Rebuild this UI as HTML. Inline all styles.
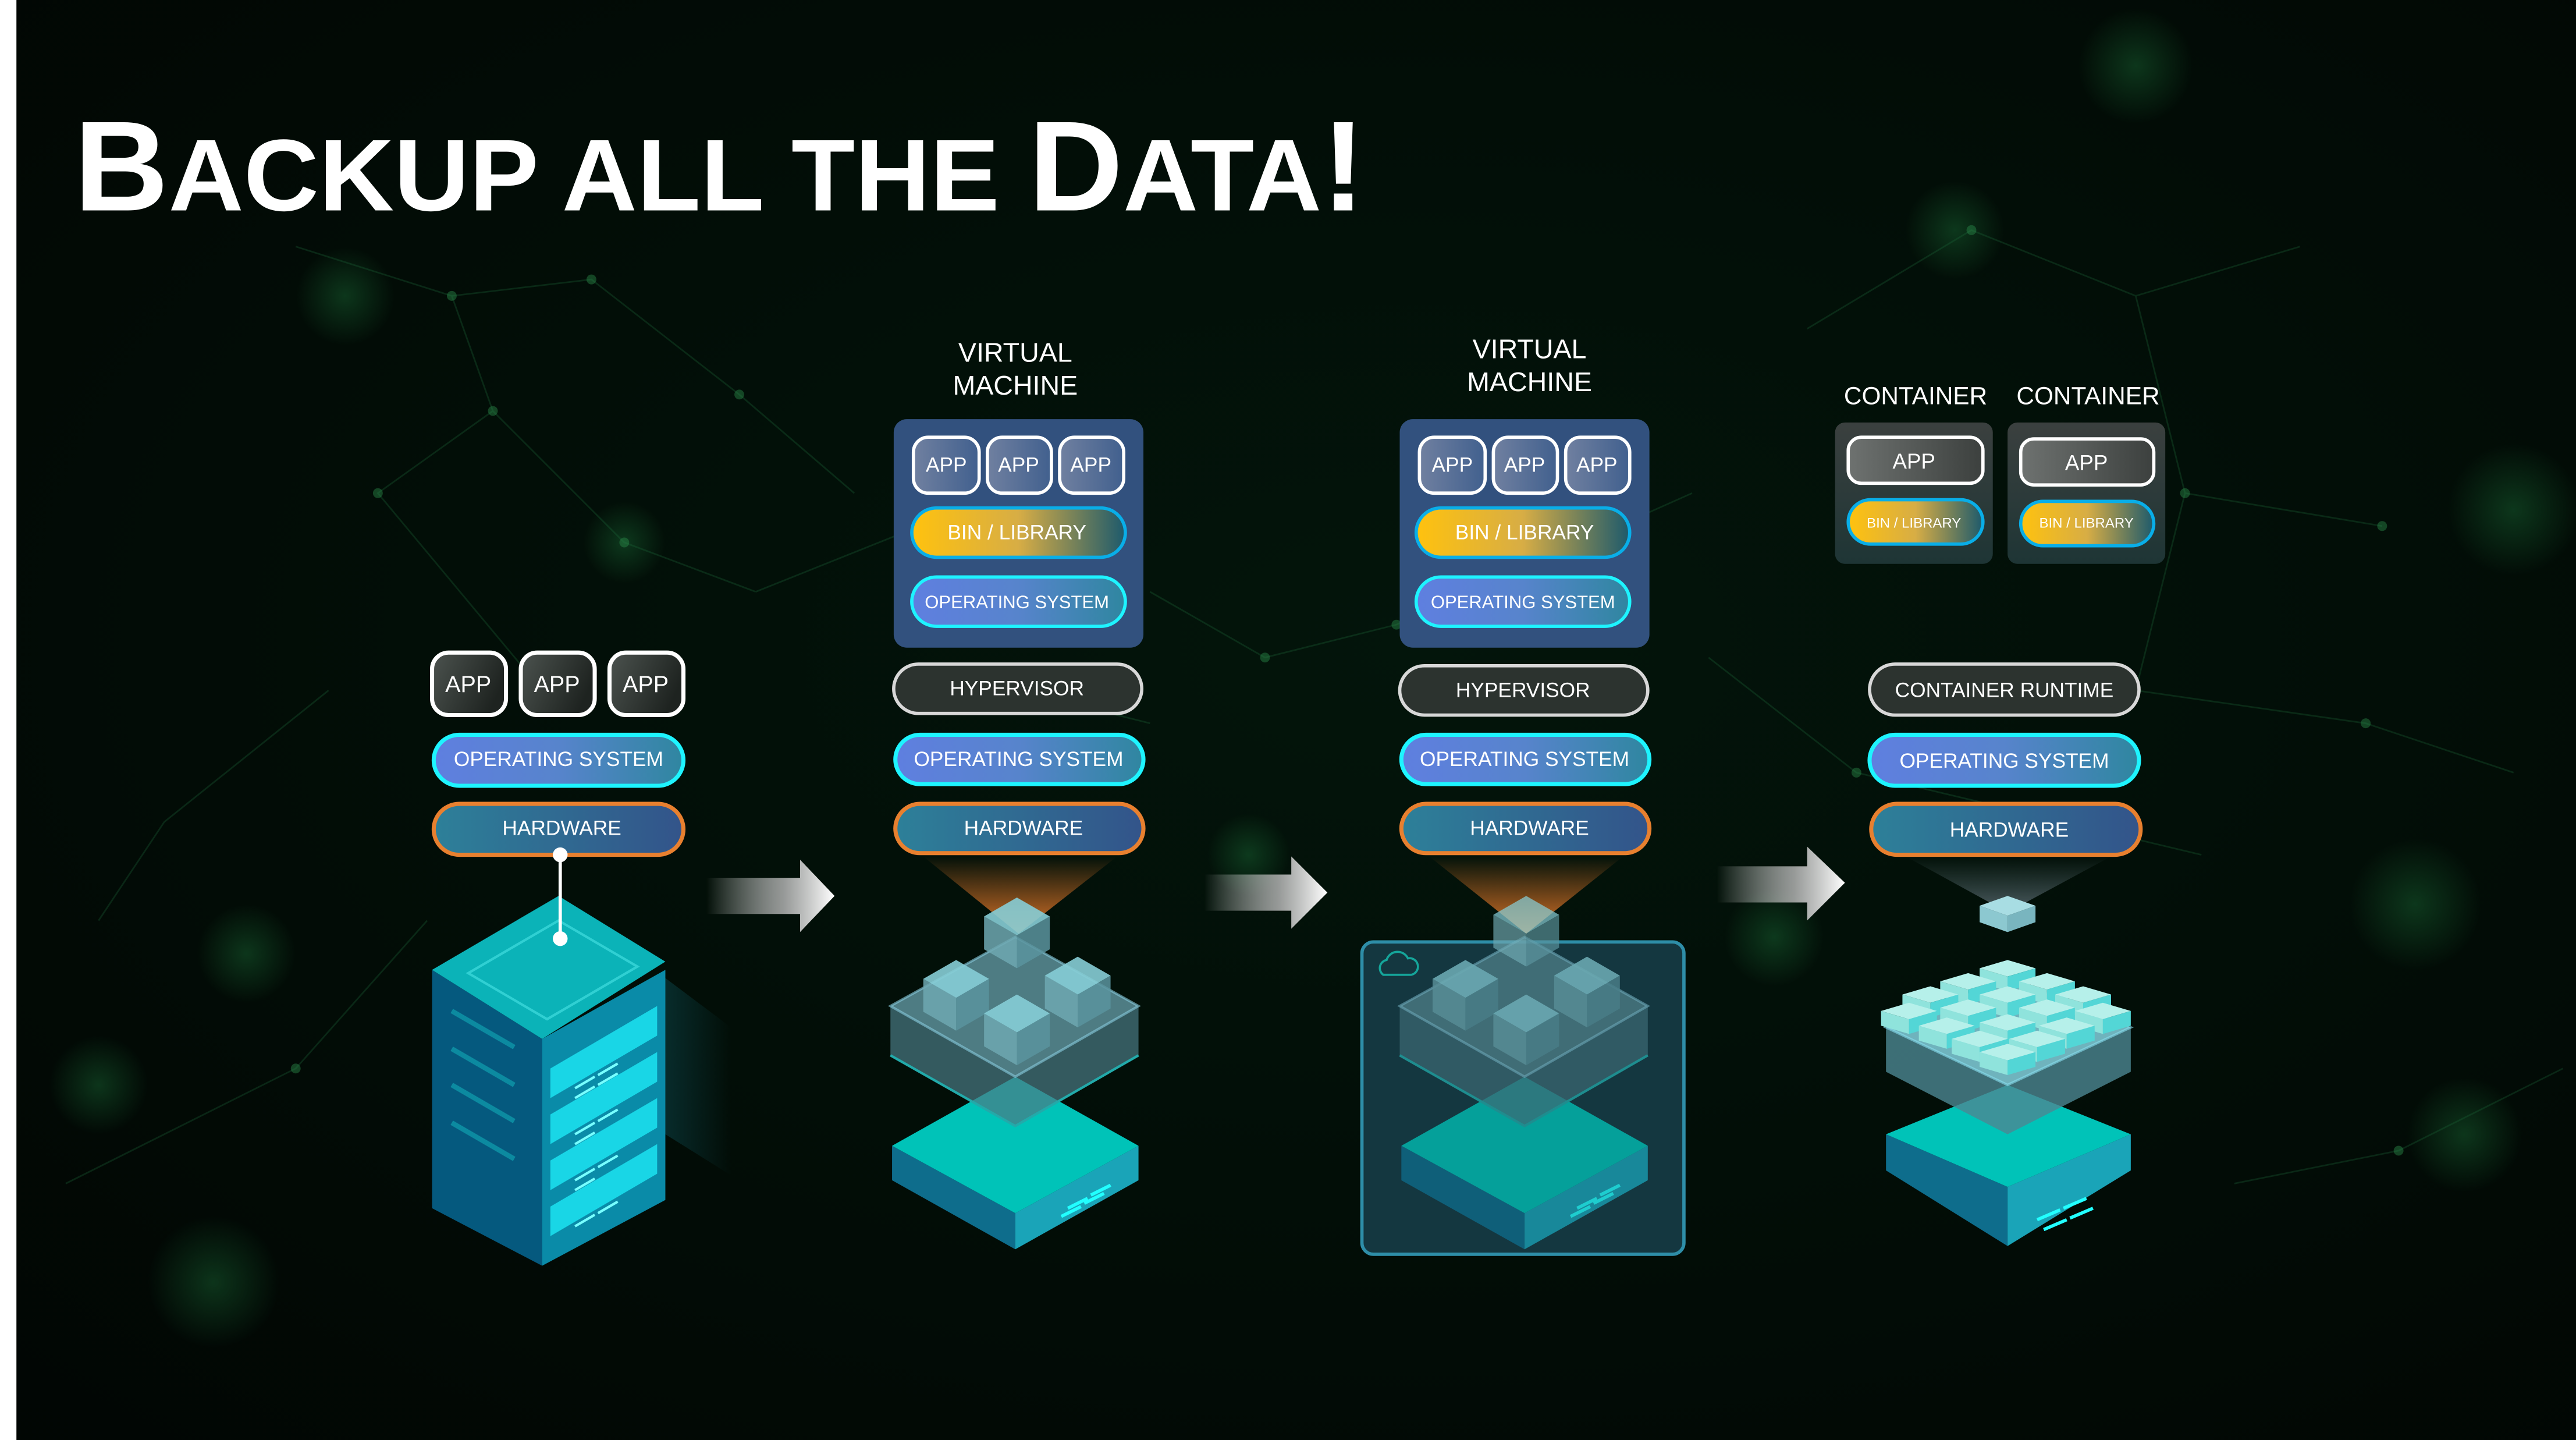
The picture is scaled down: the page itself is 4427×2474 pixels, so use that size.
<!DOCTYPE html>
<html><head><meta charset="utf-8"><style>
html,body{margin:0;padding:0;background:#000;}
svg{display:block}
text{font-family:"Liberation Sans","DejaVu Sans",sans-serif;fill:#fff;text-anchor:middle}
</style></head><body>
<svg width="4427" height="2474" viewBox="0 0 1568 876" preserveAspectRatio="none" xmlns="http://www.w3.org/2000/svg">
<defs>
<radialGradient id="bg" cx="0.55" cy="0.45" r="0.8"><stop offset="0" stop-color="#03150b"/><stop offset="0.6" stop-color="#020c06"/><stop offset="1" stop-color="#010503"/></radialGradient>
<radialGradient id="glow"><stop offset="0" stop-color="#1a6a36" stop-opacity="0.45"/><stop offset="1" stop-color="#1a6a36" stop-opacity="0"/></radialGradient>
<linearGradient id="os" x1="0" x2="1"><stop offset="0" stop-color="#5f7fe0"/><stop offset="0.5" stop-color="#5784cc"/><stop offset="1" stop-color="#2f86a0"/></linearGradient>
<linearGradient id="hw" x1="0" x2="1"><stop offset="0" stop-color="#2d8099"/><stop offset="1" stop-color="#33548a"/></linearGradient>
<linearGradient id="bin" x1="0" x2="1"><stop offset="0" stop-color="#ffc20e"/><stop offset="0.5" stop-color="#d7ad45"/><stop offset="1" stop-color="#1d5a6c"/></linearGradient>
<linearGradient id="appd" x1="0" x2="1" y1="0" y2="0.4"><stop offset="0" stop-color="#4c534f"/><stop offset="1" stop-color="#1e2320"/></linearGradient>
<linearGradient id="appb" x1="0" x2="1"><stop offset="0" stop-color="#7080a0"/><stop offset="1" stop-color="#41608e"/></linearGradient>
<linearGradient id="appg" x1="0" x2="1"><stop offset="0" stop-color="#6e7270"/><stop offset="1" stop-color="#3c403e"/></linearGradient>
<linearGradient id="cont" x1="0" y1="0" x2="0" y2="1"><stop offset="0" stop-color="#3b403f"/><stop offset="1" stop-color="#1e3535"/></linearGradient>
<linearGradient id="arr" x1="0" x2="1"><stop offset="0" stop-color="#fff" stop-opacity="0"/><stop offset="0.6" stop-color="#bbb" stop-opacity="0.8"/><stop offset="1" stop-color="#fff"/></linearGradient>
<linearGradient id="cone" x1="0" y1="0" x2="0" y2="1"><stop offset="0" stop-color="#e87a2a" stop-opacity="0"/><stop offset="1" stop-color="#e87a2a" stop-opacity="0.95"/></linearGradient>
<linearGradient id="cone2" x1="0" y1="0" x2="0" y2="1"><stop offset="0" stop-color="#7fa0a8" stop-opacity="0"/><stop offset="1" stop-color="#9ab" stop-opacity="0.5"/></linearGradient>
<linearGradient id="shadow" x1="0" x2="1"><stop offset="0" stop-color="#0d4a50" stop-opacity="0.5"/><stop offset="1" stop-color="#0d4a50" stop-opacity="0"/></linearGradient>
<g id="cube">
<path d="M0,0 L20,11.5 L0,23 L-20,11.5Z" fill="#86cdd6" fill-opacity="0.9"/>
<path d="M-20,11.5 L0,23 L0,43 L-20,31.5Z" fill="#6fa8b2" fill-opacity="0.85"/>
<path d="M0,23 L20,11.5 L20,31.5 L0,43Z" fill="#5b949f" fill-opacity="0.85"/>
</g>
<g id="tile">
<path d="M0,0 L17,5 L0,10 L-17,5Z" fill="#b6f0ea"/>
<path d="M-17,5 L0,10 L0,19 L-17,14Z" fill="#8fe3dc"/>
<path d="M0,10 L17,5 L17,14 L0,19Z" fill="#53d6d6"/>
</g>
<g id="vmstack">
<path d="M543,718 L618,760 L618,738 L543,697Z" fill="#0e6d8c"/>
<path d="M618,760 L693,718 L693,697 L618,738Z" fill="#1aa4b8"/>
<path d="M543,697 L618,655 L693,697 L618,738Z" fill="#00c3b8"/>
<path d="M650,735 l12,-6 M646,740 l12,-6 M664,727 l12,-6 M660,732 l12,-6" stroke="#2ff" stroke-width="2"/>
<path d="M542,612 L618,570 L693,612 L693,642 L618,685 L542,642Z" fill="#4a7a84" fill-opacity="0.7"/>
<path d="M542,612 L618,570 L693,612 L618,655Z" fill="#5a8a93" fill-opacity="0.7" stroke="#8cd" stroke-width="1.5" stroke-opacity="0.6"/>
<path d="M542,642 L618,685 L693,642" fill="none" stroke="#2aa" stroke-width="1.5"/>
<use href="#cube" x="582" y="584"/>
<use href="#cube" x="656" y="582"/>
<use href="#cube" x="619" y="605"/>
</g>
</defs>
<rect width="1568" height="876" fill="url(#bg)"/>
<g>
<circle cx="1470" cy="550" r="40" fill="url(#glow)"/>
<circle cx="1080" cy="570" r="30" fill="url(#glow)"/>
<circle cx="150" cy="580" r="30" fill="url(#glow)"/>
<circle cx="60" cy="660" r="30" fill="url(#glow)"/>
<circle cx="1300" cy="40" r="35" fill="url(#glow)"/>
<circle cx="1530" cy="310" r="40" fill="url(#glow)"/>
<circle cx="210" cy="180" r="30" fill="url(#glow)"/>
<circle cx="1190" cy="140" r="30" fill="url(#glow)"/>
<circle cx="1500" cy="690" r="35" fill="url(#glow)"/>
<circle cx="380" cy="330" r="25" fill="url(#glow)"/>
<circle cx="760" cy="520" r="25" fill="url(#glow)"/>
<circle cx="130" cy="780" r="40" fill="url(#glow)"/>
<g stroke="#1f6b3c" stroke-opacity="0.3" stroke-width="1" fill="none">
<path d="M180,150 L275,180 L360,170 L450,240 L520,300 M275,180 L300,250 L380,330 L460,360 M300,250 L230,300 L330,420 M460,360 L560,320 M700,360 L770,400 L850,380 L1030,300 M1100,200 L1200,140 L1300,180 L1400,150 M1300,180 L1330,300 L1450,320 M1330,300 L1300,420 L1440,440 L1530,470 M1040,400 L1130,470 L1340,520 M1360,720 L1460,700 L1560,650 M40,720 L180,650 L260,560 M700,440 L620,420 M60,560 L100,500 L200,420"/>
</g>
<g fill="#2a8a4a" fill-opacity="0.45">
<circle cx="275" cy="180" r="3"/><circle cx="360" cy="170" r="3"/><circle cx="450" cy="240" r="3"/><circle cx="300" cy="250" r="3"/><circle cx="380" cy="330" r="3"/><circle cx="770" cy="400" r="3"/><circle cx="850" cy="380" r="3"/><circle cx="1200" cy="140" r="3"/><circle cx="1330" cy="300" r="3"/><circle cx="1450" cy="320" r="3"/><circle cx="1300" cy="420" r="3"/><circle cx="1440" cy="440" r="3"/><circle cx="1130" cy="470" r="3"/><circle cx="1460" cy="700" r="3"/><circle cx="180" cy="650" r="3"/><circle cx="230" cy="300" r="3"/>
</g>
</g>
<rect x="0" y="0" width="10" height="876" fill="#fff"/>

<text x="45" y="128" textLength="786" lengthAdjust="spacingAndGlyphs" style="text-anchor:start;font-weight:bold;fill:#fff"><tspan font-size="78">B</tspan><tspan font-size="62">ACKUP ALL THE </tspan><tspan font-size="78">D</tspan><tspan font-size="62">ATA</tspan><tspan font-size="78">!</tspan></text>

<g stroke="#fff" stroke-width="2.5">
<rect x="263" y="397" width="45" height="38" rx="10" fill="url(#appd)"/>
<rect x="317" y="397" width="45" height="38" rx="10" fill="url(#appd)"/>
<rect x="371" y="397" width="45" height="38" rx="10" fill="url(#appd)"/>
</g>
<text x="285" y="421" font-size="14">APP</text><text x="339" y="421" font-size="14">APP</text><text x="393" y="421" font-size="14">APP</text>
<rect x="264" y="447" width="152" height="31" rx="15.5" fill="url(#os)" stroke="#1ef4ff" stroke-width="2.5"/>
<text x="340" y="466" font-size="12.5">OPERATING SYSTEM</text>
<rect x="264" y="489" width="152" height="31" rx="15.5" fill="url(#hw)" stroke="#e8802f" stroke-width="2.5"/>
<text x="342" y="508" font-size="12.5">HARDWARE</text>
<path d="M405,595 L445,625 L445,715 L405,690Z" fill="url(#shadow)"/>
<path d="M263,590 L330,632 L330,770 L263,735Z" fill="#05597e"/>
<path d="M330,632 L405,590 L405,730 L330,770Z" fill="#0a8ba8"/>
<g fill="#19d6e6">
<path d="M335,650 L400,612 L400,630 L335,668Z"/><path d="M335,678 L400,640 L400,658 L335,696Z"/><path d="M335,706 L400,668 L400,686 L335,724Z"/><path d="M335,734 L400,696 L400,714 L335,752Z"/>
</g>
<g stroke="#0c8aa0" stroke-width="3"><path d="M275,615 L313,637 M275,638 L313,660 M275,660 L313,682 M275,683 L313,705"/></g>
<g stroke="#7ff" stroke-width="1.5"><path d="M350,662 l12,-7 M350,668 l12,-7 M364,654 l12,-7 M364,660 l12,-7 M350,690 l12,-7 M350,696 l12,-7 M364,682 l12,-7 M350,718 l12,-7 M350,724 l12,-7 M364,710 l12,-7 M350,746 l12,-7 M364,738 l12,-7"/></g>
<path d="M263,590 L340,545 L405,585 L330,632Z" fill="#0bb3b8"/>
<path d="M285,592 L340,560 L388,588 L333,620Z" fill="none" stroke="#5ee" stroke-opacity="0.5" stroke-width="1.5"/>
<line x1="341" y1="520" x2="341" y2="571" stroke="#fff" stroke-width="2"/>
<circle cx="341" cy="520" r="4.5" fill="#fff"/><circle cx="341" cy="571" r="4.5" fill="#fff"/>

<path d="M430,534 L487,534 L487,523 L508,545 L487,567 L487,556 L430,556Z" fill="url(#arr)"/>
<path d="M733,532 L786,532 L786,521 L808,543 L786,565 L786,554 L733,554Z" fill="url(#arr)"/>
<path d="M1045,527 L1100,527 L1100,515 L1123,537 L1100,560 L1100,549 L1045,549Z" fill="url(#arr)"/>

<text x="618" y="220" font-size="16.5">VIRTUAL</text><text x="618" y="240" font-size="16.5">MACHINE</text>
<rect x="544" y="255" width="152" height="139" rx="8" fill="#32517e"/>
<g stroke="#fff" stroke-width="2">
<rect x="556" y="266" width="40" height="34" rx="9" fill="url(#appb)"/>
<rect x="601" y="266" width="39" height="34" rx="9" fill="url(#appb)"/>
<rect x="645" y="266" width="39" height="34" rx="9" fill="url(#appb)"/>
</g>
<text x="576" y="287" font-size="12.5">APP</text><text x="620" y="287" font-size="12.5">APP</text><text x="664" y="287" font-size="12.5">APP</text>
<rect x="555" y="309" width="130" height="30" rx="15" fill="url(#bin)" stroke="#09aee8" stroke-width="2"/>
<text x="619" y="328" font-size="12.5">BIN / LIBRARY</text>
<rect x="555" y="351" width="130" height="30" rx="15" fill="url(#os)" stroke="#1ef4ff" stroke-width="2"/>
<text x="619" y="370" font-size="11">OPERATING SYSTEM</text>
<rect x="544" y="404" width="151" height="30" rx="15" fill="#2c332f" stroke="#d8d8d8" stroke-width="2"/>
<text x="619" y="423" font-size="12.5">HYPERVISOR</text>
<rect x="545" y="447" width="151" height="30" rx="15" fill="url(#os)" stroke="#1ef4ff" stroke-width="2.5"/>
<text x="620" y="466" font-size="12.5">OPERATING SYSTEM</text>
<rect x="545" y="489" width="151" height="30" rx="15" fill="url(#hw)" stroke="#e8802f" stroke-width="2.5"/>
<text x="623" y="508" font-size="12.5">HARDWARE</text>
<path d="M562,521 L680,521 L620,568Z" fill="url(#cone)"/>
<use href="#vmstack"/>
<use href="#cube" x="619" y="546"/>

<text x="931" y="218" font-size="16.5">VIRTUAL</text><text x="931" y="238" font-size="16.5">MACHINE</text>
<rect x="852" y="255" width="152" height="139" rx="8" fill="#32517e"/>
<g stroke="#fff" stroke-width="2">
<rect x="864" y="266" width="40" height="34" rx="9" fill="url(#appb)"/>
<rect x="909" y="266" width="39" height="34" rx="9" fill="url(#appb)"/>
<rect x="953" y="266" width="39" height="34" rx="9" fill="url(#appb)"/>
</g>
<text x="884" y="287" font-size="12.5">APP</text><text x="928" y="287" font-size="12.5">APP</text><text x="972" y="287" font-size="12.5">APP</text>
<rect x="862" y="309" width="130" height="30" rx="15" fill="url(#bin)" stroke="#09aee8" stroke-width="2"/>
<text x="928" y="328" font-size="12.5">BIN / LIBRARY</text>
<rect x="862" y="351" width="130" height="30" rx="15" fill="url(#os)" stroke="#1ef4ff" stroke-width="2"/>
<text x="927" y="370" font-size="11">OPERATING SYSTEM</text>
<rect x="852" y="405" width="151" height="30" rx="15" fill="#2c332f" stroke="#d8d8d8" stroke-width="2"/>
<text x="927" y="424" font-size="12.5">HYPERVISOR</text>
<rect x="853" y="447" width="151" height="30" rx="15" fill="url(#os)" stroke="#1ef4ff" stroke-width="2.5"/>
<text x="928" y="466" font-size="12.5">OPERATING SYSTEM</text>
<rect x="853" y="489" width="151" height="30" rx="15" fill="url(#hw)" stroke="#e8802f" stroke-width="2.5"/>
<text x="931" y="508" font-size="12.5">HARDWARE</text>
<path d="M870,521 L988,521 L929,568Z" fill="url(#cone)"/>
<rect x="829" y="573" width="196" height="190" rx="7" fill="#143740" stroke="#2e8ea8" stroke-width="2"/>
<path d="M842,593 a5,5 0 0 1 2,-9 a7,7 0 0 1 13,-1 a5,5 0 0 1 2,10Z" fill="none" stroke="#15a59a" stroke-width="1.3"/>
<g transform="translate(310,0)" opacity="0.75"><use href="#vmstack"/></g>
<g opacity="0.8"><use href="#cube" x="929" y="545"/></g>

<text x="1166" y="246" font-size="15">CONTAINER</text><text x="1271" y="246" font-size="15">CONTAINER</text>
<rect x="1117" y="257" width="96" height="86" rx="6" fill="url(#cont)"/>
<rect x="1222" y="257" width="96" height="86" rx="6" fill="url(#cont)"/>
<g stroke="#fff" stroke-width="2">
<rect x="1125" y="266" width="82" height="28" rx="8" fill="url(#appg)"/>
<rect x="1230" y="267" width="81" height="28" rx="8" fill="url(#appg)"/>
</g>
<text x="1165" y="285" font-size="13">APP</text><text x="1270" y="286" font-size="13">APP</text>
<rect x="1125" y="304" width="82" height="27" rx="13.5" fill="url(#bin)" stroke="#09aee8" stroke-width="2"/>
<rect x="1230" y="305" width="81" height="27" rx="13.5" fill="url(#bin)" stroke="#09aee8" stroke-width="2"/>
<text x="1165" y="321" font-size="8.5">BIN / LIBRARY</text><text x="1270" y="321" font-size="8.5">BIN / LIBRARY</text>
<rect x="1138" y="404" width="164" height="31" rx="15.5" fill="#2c332f" stroke="#d8d8d8" stroke-width="2"/>
<text x="1220" y="424" font-size="12.5">CONTAINER RUNTIME</text>
<rect x="1138" y="447" width="164" height="31" rx="15.5" fill="url(#os)" stroke="#1ef4ff" stroke-width="2.5"/>
<text x="1220" y="467" font-size="12.5">OPERATING SYSTEM</text>
<rect x="1139" y="489" width="164" height="31" rx="15.5" fill="url(#hw)" stroke="#e8802f" stroke-width="2.5"/>
<text x="1223" y="509" font-size="12.5">HARDWARE</text>
<path d="M1160,521 L1285,521 L1222,555Z" fill="url(#cone2)"/>
<path d="M1148,712 L1222,758 L1222,722 L1148,690Z" fill="#0e6d8c"/>
<path d="M1222,758 L1297,712 L1297,690 L1222,722Z" fill="#1aa4b8"/>
<path d="M1148,690 L1222,660 L1297,690 L1222,722Z" fill="#00c3b8"/>
<path d="M1240,742 l14,-6 M1256,735 l14,-6 M1244,748 l14,-6 M1260,741 l14,-6" stroke="#2ff" stroke-width="2"/>
<path d="M1148,625 L1222,595 L1297,625 L1297,652 L1222,690 L1148,652Z" fill="#4c8792" fill-opacity="0.8"/>
<path d="M1148,625 L1222,595 L1297,625 L1222,660Z" fill="#6fb3bd" stroke="#8de" stroke-width="1.5" stroke-opacity="0.6"/>
<use href="#tile" x="1222" y="584"/>
<use href="#tile" x="1198" y="592"/><use href="#tile" x="1246" y="592"/>
<use href="#tile" x="1175" y="600"/><use href="#tile" x="1222" y="600"/><use href="#tile" x="1268" y="600"/>
<use href="#tile" x="1162" y="610"/><use href="#tile" x="1198" y="608"/><use href="#tile" x="1246" y="608"/><use href="#tile" x="1280" y="610"/>
<use href="#tile" x="1185" y="619"/><use href="#tile" x="1222" y="617"/><use href="#tile" x="1258" y="619"/>
<use href="#tile" x="1205" y="627"/><use href="#tile" x="1240" y="627"/>
<use href="#tile" x="1222" y="635"/>
<path d="M1222,545 L1239,551 L1222,557 L1205,551Z" fill="#a8dde3"/>
<path d="M1205,551 L1222,557 L1222,567 L1205,561Z" fill="#8cc8d0"/>
<path d="M1222,557 L1239,551 L1239,561 L1222,567Z" fill="#79b5bf"/>
</svg>
</body></html>
